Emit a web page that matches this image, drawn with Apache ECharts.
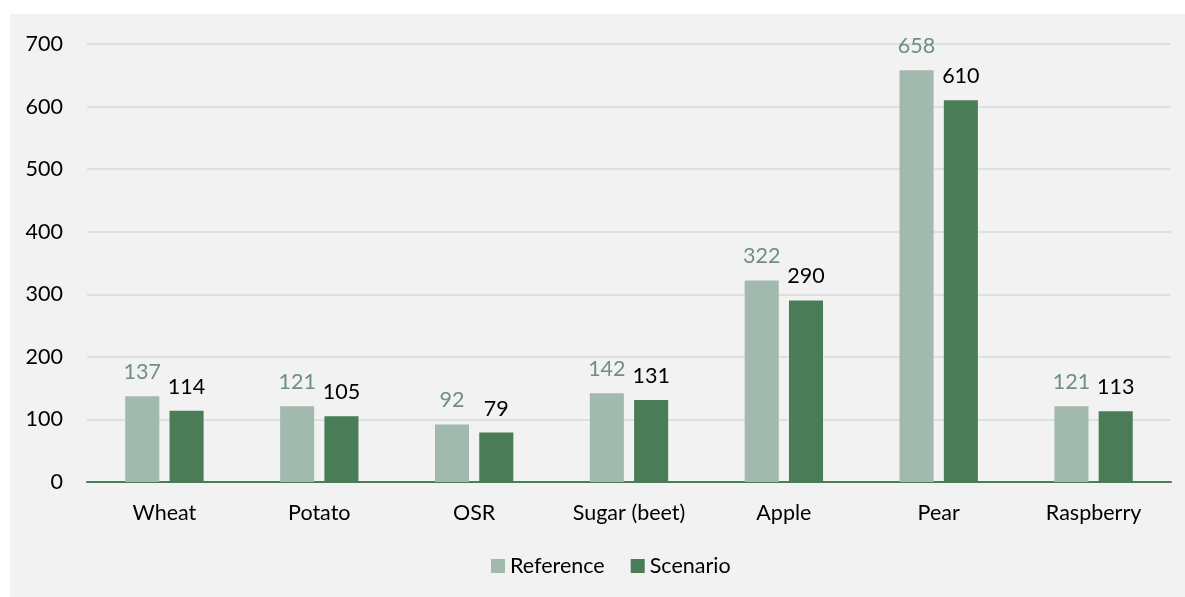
<!DOCTYPE html>
<html><head><meta charset="utf-8">
<script src="https://cdn.jsdelivr.net/npm/echarts@6/dist/echarts.min.js"></script>
<style>
html,body{margin:0;padding:0;background:#fff;}
#c{position:absolute;left:10px;top:14px;width:1175px;height:583px;background:#f2f2f2;}
</style></head>
<body><div id="c"></div>
<script>
const categories = ['Wheat','Potato','OSR','Sugar (beet)','Apple','Pear','Raspberry'];
const referenceValues = [137,121,92,142,322,658,121];
const scenarioValues = [114,105,79,131,290,610,113];
const yTicks = {min:0,max:700,interval:100};
const FONT = 'Lato';
const FS = 21.5;
const chart = echarts.init(document.getElementById('c'));
chart.setOption({
  backgroundColor:'#f2f2f2',
  textStyle:{fontFamily:FONT},
  animation:false,
  grid:{left:77,right:14,top:30,bottom:115,containLabel:false},
  legend:{top:536,left:476,itemWidth:14,itemHeight:14,itemGap:26,
    icon:'rect',textStyle:{fontSize:FS,color:'#000',fontFamily:FONT},
    data:['Reference','Scenario']},
  xAxis:{type:'category',data:categories,
    axisLine:{lineStyle:{color:'#4a7c57',width:2}},
    axisTick:{show:false},
    axisLabel:{fontSize:FS,color:'#000',margin:20,fontFamily:FONT}},
  yAxis:{type:'value',min:yTicks.min,max:yTicks.max,interval:yTicks.interval,
    axisLine:{show:false},axisTick:{show:false},
    splitLine:{lineStyle:{color:'#d3dcd8',width:1.5}},
    axisLabel:{fontSize:FS,color:'#000',margin:24,fontFamily:FONT}},
  series:[
    {name:'Reference',type:'bar',data:referenceValues,barWidth:'22%',barGap:'30%',
     itemStyle:{color:'#a2b9ae'},
     label:{show:true,position:'top',distance:13,fontSize:FS,color:'#6e9080',fontFamily:FONT}},
    {name:'Scenario',type:'bar',data:scenarioValues,barWidth:'22%',
     itemStyle:{color:'#4a7c57'},
     label:{show:true,position:'top',distance:13,fontSize:FS,color:'#000',fontFamily:FONT}}
  ]
});
</script></body></html>
